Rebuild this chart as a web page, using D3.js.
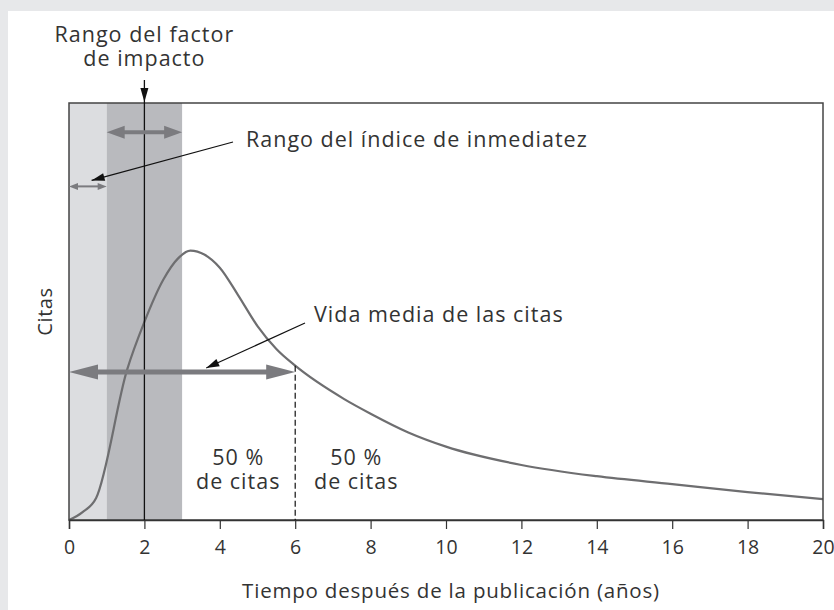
<!DOCTYPE html>
<html>
<head>
<meta charset="utf-8">
<script src="https://cdnjs.cloudflare.com/ajax/libs/d3/7.8.5/d3.min.js"></script>
<style>
  body { margin: 0; background: #e7e8ea; }
  svg { display: block; }
  text { font-family: "Open Sans", sans-serif; fill: #333; }
</style>
</head>
<body>
<svg width="834" height="610"></svg>
<script>
// **** Data ****
var years     = [0, 0.36, 0.72, 1.54, 2.0, 2.5, 2.9, 3.22, 3.6, 4.0, 4.48, 5.0, 5.5, 6.0, 7.3, 8.0, 9.0, 10.0, 12, 14, 16, 18, 20];
var citations = [0, 1.9, 5.3, 36, 47.5, 57.6, 62.8, 64.6, 63.6, 60.5, 54, 46.5, 41, 37, 29, 25.5, 21, 17.6, 13.2, 10.5, 8.6, 6.7, 5.0];
var tickYears = [0, 2, 4, 6, 8, 10, 12, 14, 16, 18, 20];

var immediacyRange = [0, 1];   // rango del indice de inmediatez
var impactRange = [1, 3];      // rango del factor de impacto
var impactYear = 2;
var halfLife = 6;

// citation levels (y units) where the annotation arrows sit
var immediacyLevel = 80;
var impactLevel = 93;
var halfLifeLevel = 35.5;

// **** Layout ****
var svg = d3.select("svg");
var W = 834, H = 610;
var plotLeft = 69, plotTop = 103, plotRight = 823, plotBottom = 520;
var grey = "#7b7b7f";

svg.append("rect")
    .attr("x", 8).attr("y", 11)
    .attr("width", W - 8).attr("height", H - 11)
    .attr("fill", "#fff");

var x = d3.scaleLinear().domain([0, 20]).range([plotLeft, plotRight]);
var y = d3.scaleLinear().domain([0, 100]).range([plotBottom, plotTop]);

var chartG = svg.append("g");

// arrow head with its tip at (tx,ty), pointing away from (fx,fy)
function headPath(tx, ty, fx, fy, len, half) {
    var dx = tx - fx, dy = ty - fy, d = Math.sqrt(dx * dx + dy * dy);
    var ux = dx / d, uy = dy / d;
    var bx = tx - ux * len, by = ty - uy * len;
    return "M" + tx + "," + ty +
        "L" + (bx - uy * half) + "," + (by + ux * half) +
        "L" + (bx + uy * half) + "," + (by - ux * half) + "Z";
}

function doubleArrow(x1, x2, yy, width, len, half, colour) {
    chartG.append("line")
        .attr("x1", x1 + len * 0.6).attr("x2", x2 - len * 0.6)
        .attr("y1", yy).attr("y2", yy)
        .attr("stroke", colour).attr("stroke-width", width);
    chartG.append("path").attr("d", headPath(x1, yy, x2, yy, len, half)).attr("fill", colour);
    chartG.append("path").attr("d", headPath(x2, yy, x1, yy, len, half)).attr("fill", colour);
}

function leader(x1, y1, x2, y2) {
    chartG.append("line")
        .attr("x1", x1).attr("y1", y1)
        .attr("x2", x2).attr("y2", y2)
        .attr("stroke", "#111").attr("stroke-width", 1.2);
    chartG.append("path").attr("d", headPath(x2, y2, x1, y1, 13, 4)).attr("fill", "#111");
}

// **** Shaded ranges ****
chartG.append("rect")
    .attr("x", x(immediacyRange[0])).attr("y", plotTop)
    .attr("width", x(immediacyRange[1]) - x(immediacyRange[0]))
    .attr("height", plotBottom - plotTop)
    .attr("fill", "#dcdde0");

chartG.append("rect")
    .attr("x", x(impactRange[0])).attr("y", plotTop)
    .attr("width", x(impactRange[1]) - x(impactRange[0]))
    .attr("height", plotBottom - plotTop)
    .attr("fill", "#b9babe");

// **** Citation curve ****
var line = d3.line()
    .x(function(d, i) { return x(years[i]); })
    .y(function(d) { return y(d); })
    .curve(d3.curveMonotoneX);

chartG.append("path")
    .datum(citations)
    .attr("d", line)
    .attr("fill", "none")
    .attr("stroke", "#6e6e70")
    .attr("stroke-width", 2.2);

// **** Frame and x axis ****
chartG.append("rect")
    .attr("x", plotLeft).attr("y", plotTop)
    .attr("width", plotRight - plotLeft).attr("height", plotBottom - plotTop)
    .attr("fill", "none")
    .attr("stroke", "#444")
    .attr("stroke-width", 1.5);

var xAxis = chartG.append("g")
    .attr("class", "x axis")
    .attr("transform", "translate(0," + plotBottom + ")")
    .call(d3.axisBottom(x).tickValues(tickYears).tickSize(9).tickPadding(11));

xAxis.select(".domain").attr("stroke", "#333").attr("stroke-width", 1.5);
xAxis.selectAll(".tick line").attr("stroke", "#333").attr("stroke-width", 1.2);
xAxis.selectAll(".tick text")
    .style("font-family", '"Open Sans", sans-serif')
    .style("font-size", "19.5px")
    .attr("fill", "#333");

chartG.append("text")
    .attr("x", (plotLeft + plotRight) / 2 + 5)
    .attr("y", 598)
    .attr("text-anchor", "middle")
    .style("font-size", "20.5px")
    .style("letter-spacing", "0.8px")
    .text("Tiempo después de la publicación (años)");

chartG.append("text")
    .attr("transform", "translate(52," + (plotTop + plotBottom) / 2 + ") rotate(-90)")
    .attr("text-anchor", "middle")
    .style("font-size", "20px")
    .style("letter-spacing", "0.6px")
    .text("Citas");

// **** Impact factor marker ****
chartG.append("line")
    .attr("x1", x(impactYear)).attr("x2", x(impactYear))
    .attr("y1", 80).attr("y2", plotBottom)
    .attr("stroke", "#111").attr("stroke-width", 1.3);
chartG.append("path")
    .attr("d", headPath(x(impactYear), plotTop - 1, x(impactYear), 80, 14, 4))
    .attr("fill", "#111");

chartG.append("text")
    .attr("x", x(impactYear)).attr("y", 42)
    .attr("text-anchor", "middle")
    .style("font-size", "21.5px")
    .style("letter-spacing", "1px")
    .text("Rango del factor");
chartG.append("text")
    .attr("x", x(impactYear)).attr("y", 66)
    .attr("text-anchor", "middle")
    .style("font-size", "21.5px")
    .style("letter-spacing", "1px")
    .text("de impacto");

doubleArrow(x(impactRange[0]), x(impactRange[1]), y(impactLevel), 4, 18, 6.5, grey);
doubleArrow(x(immediacyRange[0]), x(immediacyRange[1]), y(immediacyLevel), 2, 9, 3.5, grey);

leader(233, 142, x(0.6), y(immediacyLevel) - 6);
chartG.append("text")
    .attr("x", 246).attr("y", 147)
    .style("font-size", "21.5px")
    .style("letter-spacing", "1px")
    .text("Rango del índice de inmediatez");

// **** Half-life ****
var halfLifeValue = citations[years.indexOf(halfLife)];
chartG.append("line")
    .attr("x1", x(halfLife)).attr("x2", x(halfLife))
    .attr("y1", y(halfLifeValue)).attr("y2", plotBottom)
    .attr("stroke", "#111").attr("stroke-width", 1.2)
    .attr("stroke-dasharray", "6,3");

doubleArrow(x(0), x(halfLife), y(halfLifeLevel), 5, 29, 7.5, grey);

leader(305, 323, x(3.64), y(halfLifeLevel) - 4);
chartG.append("text")
    .attr("x", 314).attr("y", 322)
    .style("font-size", "21.5px")
    .style("letter-spacing", "1px")
    .text("Vida media de las citas");

var halves = [x(halfLife) - 57, x(halfLife) + 61];
halves.forEach(function(cx) {
    chartG.append("text")
        .attr("x", cx).attr("y", 465)
        .attr("text-anchor", "middle")
        .style("font-size", "21.5px")
        .style("letter-spacing", "1px")
        .text("50 %");
    chartG.append("text")
        .attr("x", cx).attr("y", 489)
        .attr("text-anchor", "middle")
        .style("font-size", "21.5px")
        .style("letter-spacing", "1px")
        .text("de citas");
});
</script>
</body>
</html>
